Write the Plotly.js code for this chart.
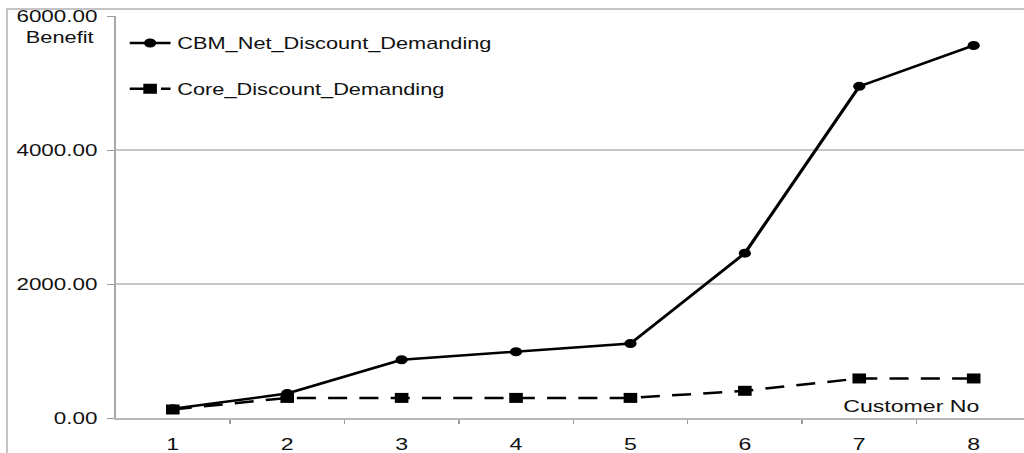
<!DOCTYPE html>
<html>
<head>
<meta charset="utf-8">
<script src="https://cdn.plot.ly/plotly-3.0.1.min.js"></script>
<style>
  html, body { margin: 0; padding: 0; width: 1024px; height: 453px; overflow: hidden; background: #fff; }
  #wrap { position: absolute; left: 0; top: 0; width: 758px; height: 453px; transform: scaleX(1.36); transform-origin: 0 0; }
  #frame { position: absolute; left: 6px; top: 8px; width: 1100px; height: 600px;
           border-left: 2px solid #c4c4c4; border-top: 2px solid #c4c4c4; pointer-events: none; }
</style>
</head>
<body>
<div id="wrap"><div id="chart" style="width:758px;height:453px;"></div></div>
<div id="frame"></div>
<script>
// Customer numbers on the x axis
const customers = [1, 2, 3, 4, 5, 6, 7, 8];
const customerLabels = ['1', '2', '3', '4', '5', '6', '7', '8'];

// Benefit per customer for each pricing scheme
const cbmNetDiscount = [137, 366, 869, 988, 1112, 2460, 4950, 5560];
const coreDiscount = [127, 300, 300, 300, 300, 406, 590, 590];

// Value axis ticks
const benefitTicks = [0, 2000, 4000, 6000];

const FONT = 'Liberation Sans, Arial, sans-serif';
const TXT = '#111';
const GRID = '#c6c6c6';

const traces = [
  {
    x: customers, y: cbmNetDiscount, name: 'CBM_Net_Discount_Demanding',
    type: 'scatter', mode: 'lines+markers', legendgroup: 'a',
    line: { color: '#000', width: 2.5 },
    marker: { symbol: 'circle', size: 9, color: '#000' }
  },
  {
    x: customers, y: coreDiscount, name: 'Core_Discount_Demanding',
    type: 'scatter', mode: 'lines+markers', legendgroup: 'b',
    line: { color: '#000', width: 2.5, dash: '14px,9px' },
    marker: { symbol: 'square', size: 10, color: '#000' }
  }
];

const layout = {
  width: 758, height: 453,
  margin: { l: 85, r: 0, t: 16, b: 35 },
  paper_bgcolor: 'rgba(0,0,0,0)',
  plot_bgcolor: 'rgba(0,0,0,0)',
  font: { family: FONT, size: 17, color: TXT },
  showlegend: true,
  legend: {
    x: 0.008, y: 0.975, xanchor: 'left', yanchor: 'top',
    bgcolor: 'rgba(0,0,0,0)', font: { family: FONT, size: 16, color: TXT },
    tracegroupgap: 22, itemwidth: 30
  },
  xaxis: {
    range: [0.5, 8.5], tickmode: 'array', tickvals: customers, ticktext: customerLabels,
    ticks: '', showgrid: false, zeroline: false,
    showline: true, linecolor: '#b8b8b8', linewidth: 2,
    ticklabelstandoff: 10,
    tickfont: { family: FONT, size: 17, color: TXT },
    minor: { tickmode: 'array', tickvals: [1.5, 2.5, 3.5, 4.5, 5.5, 6.5, 7.5],
             ticks: 'outside', ticklen: 4, tickcolor: '#9a9a9a', tickwidth: 1, showgrid: false }
  },
  yaxis: {
    range: [0, 6000], tickmode: 'array', tickvals: benefitTicks, tickformat: '.2f',
    ticks: 'outside', ticklen: 5, tickcolor: '#9a9a9a', tickwidth: 1,
    showgrid: true, gridcolor: GRID, gridwidth: 1.5,
    showline: true, linecolor: '#a8a8a8', linewidth: 1,
    zeroline: false, ticklabelstandoff: 4,
    tickfont: { family: FONT, size: 16.5, color: TXT }
  },
  annotations: [
    { text: 'Benefit', xref: 'paper', yref: 'paper', x: -0.061, y: 0.947,
      xanchor: 'center', yanchor: 'middle', showarrow: false,
      font: { family: FONT, size: 16, color: TXT } },
    { text: 'Customer No', xref: 'paper', yref: 'paper', x: 0.869, y: 0.028,
      xanchor: 'center', yanchor: 'middle', showarrow: false,
      font: { family: FONT, size: 17, color: TXT } }
  ]
};

Plotly.newPlot('chart', traces, layout, { displayModeBar: false, staticPlot: true });
</script>
</body>
</html>
